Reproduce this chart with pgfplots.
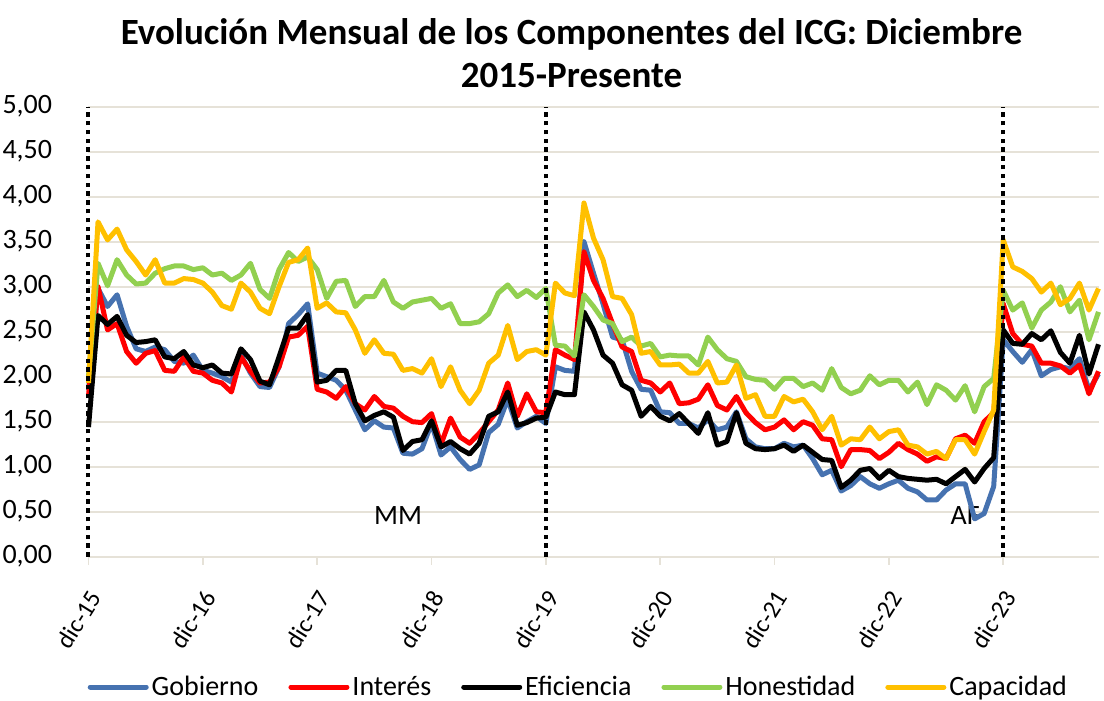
\documentclass[border=0pt]{standalone}
\usepackage{fontspec}
\setmainfont{Carlito}
\usepackage{pgfplots}
\usepackage{pgfplotstable}
\pgfplotsset{compat=1.18}
\definecolor{colGob}{RGB}{70,114,176}
\definecolor{colInt}{RGB}{255,0,0}
\definecolor{colHon}{RGB}{146,208,80}
\definecolor{colCap}{RGB}{255,192,0}
\definecolor{gridc}{RGB}{230,226,216}

% meses desde dic-15 (0) hasta oct-24 (106)
\pgfplotstableread{
i gob int efi hon cap
0 1.85 1.78 1.44 2.00 1.93
1 2.98 3.00 2.68 3.26 3.72
2 2.78 2.52 2.58 3.01 3.52
3 2.91 2.59 2.67 3.30 3.64
4 2.56 2.28 2.46 3.13 3.41
5 2.31 2.15 2.38 3.03 3.28
6 2.28 2.26 2.39 3.04 3.13
7 2.33 2.29 2.41 3.15 3.30
8 2.30 2.07 2.22 3.20 3.04
9 2.17 2.06 2.20 3.23 3.04
10 2.15 2.22 2.28 3.23 3.09
11 2.24 2.06 2.13 3.19 3.08
12 2.07 2.04 2.10 3.21 3.04
13 2.04 1.96 2.13 3.13 2.94
14 2.00 1.93 2.04 3.15 2.79
15 1.94 1.83 2.03 3.07 2.75
16 2.24 2.22 2.31 3.13 3.04
17 2.04 2.06 2.19 3.26 2.94
18 1.89 1.93 1.95 2.97 2.76
19 1.88 1.94 1.91 2.87 2.70
20 2.11 2.11 2.22 3.19 3.00
21 2.59 2.44 2.54 3.38 3.27
22 2.69 2.46 2.54 3.28 3.30
23 2.81 2.56 2.69 3.33 3.43
24 2.04 1.86 1.94 3.19 2.76
25 2.00 1.83 1.96 2.87 2.82
26 1.96 1.76 2.07 3.06 2.72
27 1.85 1.89 2.07 3.07 2.71
28 1.63 1.70 1.70 2.78 2.52
29 1.41 1.63 1.51 2.89 2.26
30 1.51 1.78 1.57 2.89 2.41
31 1.44 1.67 1.61 3.07 2.26
32 1.43 1.65 1.55 2.83 2.25
33 1.15 1.56 1.18 2.76 2.07
34 1.14 1.50 1.28 2.83 2.09
35 1.20 1.49 1.30 2.85 2.04
36 1.48 1.59 1.51 2.87 2.20
37 1.13 1.25 1.22 2.76 1.89
38 1.22 1.54 1.28 2.81 2.11
39 1.08 1.33 1.20 2.59 1.85
40 0.97 1.26 1.14 2.59 1.70
41 1.02 1.37 1.26 2.61 1.85
42 1.38 1.50 1.56 2.70 2.15
43 1.47 1.63 1.61 2.93 2.24
44 1.75 1.93 1.83 3.02 2.57
45 1.43 1.56 1.46 2.89 2.19
46 1.50 1.81 1.49 2.96 2.28
47 1.56 1.61 1.54 2.88 2.30
48 1.48 1.60 1.55 2.98 2.24
49 2.11 2.30 1.83 2.35 3.04
50 2.07 2.24 1.80 2.34 2.93
51 2.06 2.19 1.80 2.23 2.90
52 3.50 3.39 2.72 2.91 3.93
53 3.15 3.07 2.52 2.78 3.54
54 2.81 2.87 2.24 2.63 3.30
55 2.44 2.59 2.15 2.59 2.89
56 2.41 2.33 1.91 2.39 2.87
57 2.06 2.28 1.85 2.44 2.69
58 1.86 1.96 1.56 2.34 2.26
59 1.85 1.93 1.67 2.37 2.28
60 1.61 1.83 1.56 2.22 2.13
61 1.60 1.93 1.51 2.24 2.13
62 1.48 1.70 1.59 2.23 2.14
63 1.48 1.71 1.48 2.23 2.04
64 1.43 1.75 1.37 2.13 2.04
65 1.52 1.91 1.60 2.44 2.17
66 1.41 1.68 1.24 2.30 1.93
67 1.44 1.63 1.28 2.20 1.94
68 1.61 1.78 1.60 2.17 2.13
69 1.31 1.60 1.26 2.00 1.76
70 1.22 1.49 1.20 1.97 1.80
71 1.20 1.41 1.19 1.96 1.56
72 1.20 1.44 1.20 1.86 1.56
73 1.26 1.52 1.24 1.98 1.78
74 1.22 1.41 1.17 1.98 1.72
75 1.24 1.50 1.24 1.89 1.75
76 1.09 1.46 1.16 1.93 1.61
77 0.91 1.31 1.08 1.85 1.41
78 0.96 1.30 1.07 2.09 1.56
79 0.73 1.00 0.77 1.88 1.24
80 0.79 1.19 0.85 1.81 1.31
81 0.89 1.19 0.96 1.85 1.30
82 0.81 1.18 0.98 2.01 1.44
83 0.76 1.09 0.87 1.91 1.31
84 0.81 1.16 0.96 1.96 1.39
85 0.85 1.26 0.89 1.96 1.41
86 0.76 1.19 0.87 1.83 1.24
87 0.72 1.14 0.86 1.94 1.22
88 0.63 1.06 0.85 1.69 1.14
89 0.63 1.11 0.86 1.91 1.17
90 0.74 1.09 0.81 1.85 1.09
91 0.81 1.31 0.89 1.74 1.30
92 0.81 1.35 0.97 1.90 1.30
93 0.42 1.26 0.83 1.61 1.14
94 0.48 1.50 0.98 1.89 1.39
95 0.78 1.60 1.10 1.98 1.63
96 2.41 2.81 2.52 2.96 3.52
97 2.28 2.48 2.37 2.74 3.22
98 2.16 2.36 2.36 2.82 3.17
99 2.30 2.34 2.48 2.54 3.09
100 2.01 2.15 2.41 2.74 2.94
101 2.08 2.15 2.51 2.83 3.04
102 2.11 2.12 2.27 3.00 2.80
103 2.09 2.04 2.15 2.72 2.87
104 2.20 2.13 2.46 2.85 3.04
105 1.85 1.81 2.03 2.41 2.74
106 2.03 2.06 2.36 2.72 2.98
}\datos

\begin{document}
\begin{tikzpicture}
\begin{axis}[
    scale only axis,
    width=505pt,
    height=225pt,
    xmin=0, xmax=106,
    ymin=0, ymax=5,
    clip=false,
    axis x line*=bottom,
    axis y line*=left,
    x axis line style={draw=gridc, line width=0.9pt},
    y axis line style={draw=none},
    ytick={0,0.5,...,5},
    ymajorgrids=true,
    grid style={gridc, line width=0.9pt},
    ytick style={draw=none},
    xtick={0,12,...,96},
    xticklabels={dic-15,dic-16,dic-17,dic-18,dic-19,dic-20,dic-21,dic-22,dic-23},
    xtick style={draw=gridc, line width=0.9pt},
    tick align=outside,
    major tick length=4pt,
    /pgf/number format/.cd, fixed, fixed zerofill, precision=2, use comma, assume math mode=true,
    /pgfplots/.cd,
    yticklabel style={font=\fontsize{14}{16}\selectfont, anchor=east, inner sep=0pt, xshift=-14pt},
    xticklabel style={font=\fontsize{12.5}{14}\selectfont, xshift=3.5pt, rotate=58, anchor=east, inner sep=0pt},
    xticklabel shift=14pt,
    legend columns=5,
    legend style={at={(0.484,-0.2896)}, anchor=center, draw=none, fill=none,
        font=\fontsize{14}{16}\selectfont, inner sep=0pt, column sep=0pt,
        nodes={inner sep=0pt}},
    legend image code/.code={\draw[#1, line cap=round] (0pt,0pt) -- (28pt,0pt);},
    every axis plot/.append style={line width=2.5pt, line join=round, mark=none},
]
\node[font=\fontsize{14}{16}\selectfont] at (axis cs:32.5,0.46) {MM};
\node[font=\fontsize{14}{16}\selectfont] at (axis cs:92,0.46) {AF};

\addplot[colGob] table[x=i, y=gob] {\datos};
\addlegendentry{\kern1.5pt Gobierno\kern15pt\null}
\addplot[colInt] table[x=i, y=int] {\datos};
\addlegendentry{\kern1.5pt Interés\kern15pt\null}
\addplot[black] table[x=i, y=efi] {\datos};
\addlegendentry{\kern1.5pt Eficiencia\kern15pt\null}
\addplot[colHon] table[x=i, y=hon] {\datos};
\addlegendentry{\kern1.5pt Honestidad\kern15pt\null}
\addplot[colCap] table[x=i, y=cap] {\datos};
\addlegendentry{\kern1.5pt Capacidad}

% cambios de gobierno
\addplot[black, line width=2pt, dash pattern=on 2.2pt off 2.2pt, forget plot] coordinates {(0,0) (0,5)};
\addplot[black, line width=2pt, dash pattern=on 2.2pt off 2.2pt, forget plot] coordinates {(48,0) (48,5)};
\addplot[black, line width=2pt, dash pattern=on 2.2pt off 2.2pt, forget plot] coordinates {(96,0) (96,5)};
\end{axis}
\node[font=\fontsize{18.5}{22}\selectfont\bfseries, anchor=base] at (241.5pt,255.85pt) {Evolución Mensual de los Componentes del ICG: Diciembre};
\node[font=\fontsize{18.5}{22}\selectfont\bfseries, anchor=base] at (241.5pt,234.35pt) {2015-Presente};
\pgfresetboundingbox
\path[use as bounding box] (-44.25pt,-72.15pt) rectangle (507.75pt,278.35pt);
\end{tikzpicture}
\end{document}
